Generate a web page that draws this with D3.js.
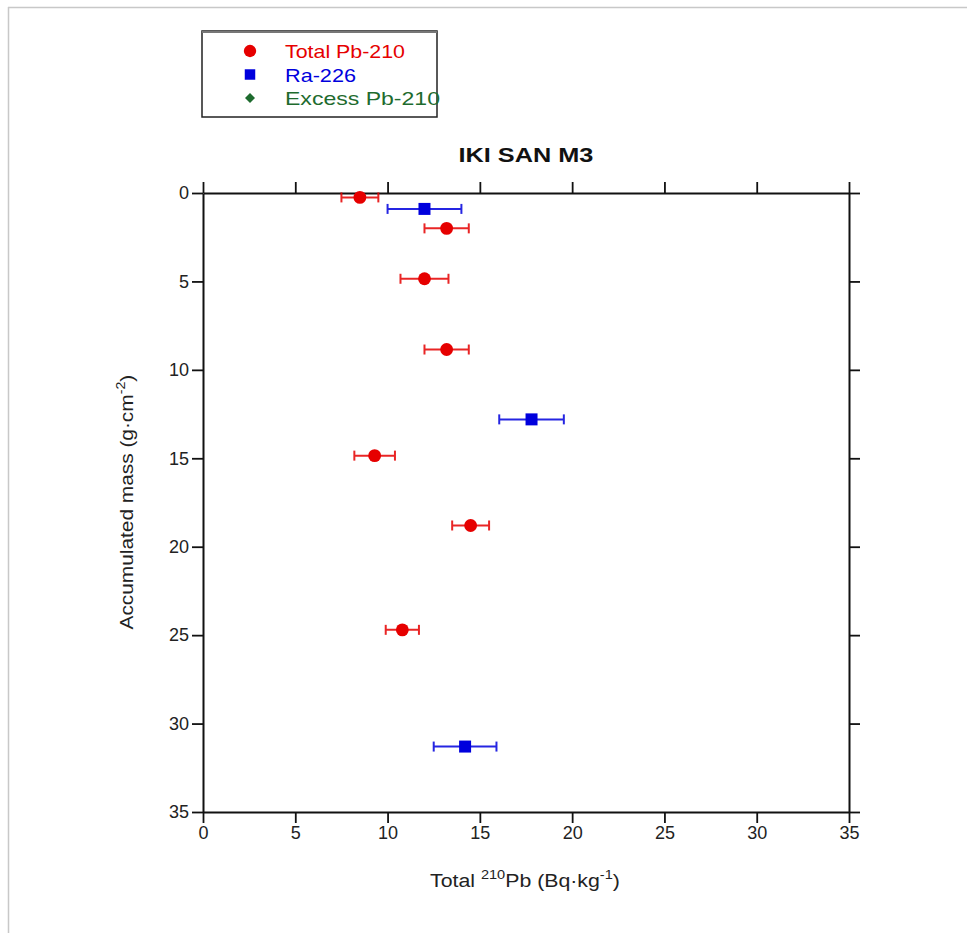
<!DOCTYPE html>
<html><head><meta charset="utf-8">
<script src="https://cdn.jsdelivr.net/npm/d3@7"></script>
<style>body{margin:0;background:#fff;}svg{display:block;font-family:"Liberation Sans",Arial,sans-serif;}</style>
</head><body>
<script>
const title = "IKI SAN M3";
const seriesNames = ["Total Pb-210", "Ra-226", "Excess Pb-210"];
const seriesColors = ["#e60000", "#0000dd", "#1e6b2e"];
const totalPb = [8.5, 13.2, 12.0, 13.2, 9.3, 14.5, 10.8];
const totalPbErr = [1.0, 1.2, 1.3, 1.2, 1.1, 1.0, 0.9];
const totalPbMass = [0.25, 2.0, 4.85, 8.85, 14.85, 18.8, 24.7];
const ra226 = [12.0, 17.8, 14.2];
const ra226Err = [2.0, 1.75, 1.7];
const ra226Mass = [0.9, 12.8, 31.3];
const excessPb = [];
const excessPbErr = [];
const excessPbMass = [];
const xTicks = [0, 5, 10, 15, 20, 25, 30, 35];
const yTicks = [0, 5, 10, 15, 20, 25, 30, 35];

const W = 967, H = 933;
const svg = d3.select("body").append("svg").attr("width", W).attr("height", H);
svg.append("line").attr("x1", 8).attr("x2", W).attr("y1", 7.5).attr("y2", 7.5).attr("stroke", "#c8c8c8").attr("stroke-width", 1.5);
svg.append("line").attr("x1", 8.5).attr("x2", 8.5).attr("y1", 7).attr("y2", H).attr("stroke", "#c8c8c8").attr("stroke-width", 1.5);

const m = {l: 203, r: 849, t: 193, b: 812};
const x = d3.scaleLinear().domain([0, 35]).range([m.l, m.r]);
const y = d3.scaleLinear().domain([0, 35]).range([m.t, m.b]);

function fitWidth(sel, cx, cy, target, rot) {
  const bb = sel.node().getBBox();
  const s = target / bb.width;
  sel.attr("x", 0).attr("y", 0);
  const bb2 = sel.node().getBBox();
  const mid = bb2.x + bb2.width / 2;
  sel.attr("transform", `translate(${cx},${cy}) rotate(${rot || 0}) scale(${s},1) translate(${-mid},0)`);
}

const fmt = d3.format("d");
function styleAxis(g) {
  g.selectAll("path.domain").attr("stroke", "#111").attr("stroke-width", 2);
  g.selectAll(".tick line").attr("stroke", "#111").attr("stroke-width", 1.8);
  g.selectAll(".tick text").attr("fill", "#222").attr("font-size", 18).attr("font-family", '"Liberation Sans",Arial,sans-serif');
}
const gTop = svg.append("g").attr("transform", `translate(0,${m.t})`)
  .call(d3.axisTop(x).tickValues(xTicks).tickSize(11).tickSizeOuter(0).tickFormat(""));
styleAxis(gTop);
const gBot = svg.append("g").attr("transform", `translate(0,${m.b})`)
  .call(d3.axisBottom(x).tickValues(xTicks).tickSize(11).tickSizeOuter(0).tickPadding(3).tickFormat(fmt));
styleAxis(gBot);
const gLeft = svg.append("g").attr("transform", `translate(${m.l},0)`)
  .call(d3.axisLeft(y).tickValues(yTicks).tickSize(11).tickSizeOuter(0).tickPadding(3).tickFormat(fmt));
styleAxis(gLeft);
const gRight = svg.append("g").attr("transform", `translate(${m.r},0)`)
  .call(d3.axisRight(y).tickValues(yTicks).tickSize(11).tickSizeOuter(0).tickFormat(""));
styleAxis(gRight);

const tt = svg.append("text").attr("font-size", 20).attr("font-weight", "bold").attr("fill", "#111").text(title);
fitWidth(tt, 526, 162, 135);

const xl = svg.append("text").attr("font-size", 19).attr("fill", "#222");
xl.append("tspan").text("Total ");
xl.append("tspan").attr("font-size", 13).attr("dy", -8).text("210");
xl.append("tspan").attr("dy", 8).text("Pb (Bq·kg");
xl.append("tspan").attr("font-size", 13).attr("dy", -8).text("-1");
xl.append("tspan").attr("dy", 8).text(")");
fitWidth(xl, 525, 887, 190);

const yl = svg.append("text").attr("font-size", 19).attr("fill", "#222");
yl.append("tspan").text("Accumulated mass (g·cm");
yl.append("tspan").attr("font-size", 13).attr("dy", -8).text("-2");
yl.append("tspan").attr("dy", 8).text(")");
fitWidth(yl, 133, 502, 255, -90);

function drawSeries(vals, errs, mass, color, shape, rot) {
  const data = vals.map((v, i) => ({v, e: errs[i], m: mass[i]}));
  const g = svg.append("g");
  const eb = g.selectAll("g.eb").data(data).join("g").attr("stroke", color).attr("stroke-width", 2).attr("opacity", 0.85);
  eb.append("line").attr("x1", d => x(d.v - d.e)).attr("x2", d => x(d.v + d.e)).attr("y1", d => y(d.m)).attr("y2", d => y(d.m));
  eb.append("line").attr("x1", d => x(d.v - d.e)).attr("x2", d => x(d.v - d.e)).attr("y1", d => y(d.m) - 5).attr("y2", d => y(d.m) + 5);
  eb.append("line").attr("x1", d => x(d.v + d.e)).attr("x2", d => x(d.v + d.e)).attr("y1", d => y(d.m) - 5).attr("y2", d => y(d.m) + 5);
  g.selectAll("path.mk").data(data).join("path")
    .attr("transform", d => `translate(${x(d.v)},${y(d.m)}) rotate(${rot || 0})`)
    .attr("d", d3.symbol().type(shape).size(shape === d3.symbolSquare ? (rot ? 60 : 144) : 130))
    .attr("fill", color);
}
drawSeries(totalPb, totalPbErr, totalPbMass, seriesColors[0], d3.symbolCircle, 0);
drawSeries(ra226, ra226Err, ra226Mass, seriesColors[1], d3.symbolSquare, 0);
drawSeries(excessPb, excessPbErr, excessPbMass, seriesColors[2], d3.symbolSquare, 45);

const lg = svg.append("g");
lg.append("rect").attr("x", 202).attr("y", 31).attr("width", 235).attr("height", 86)
  .attr("fill", "#fff").attr("stroke", "#222").attr("stroke-width", 1.5);
lg.append("line").attr("x1", 202).attr("x2", 437).attr("y1", 32).attr("y2", 32).attr("stroke", "#777").attr("stroke-width", 2);
const shapes = [d3.symbolCircle, d3.symbolSquare, d3.symbolSquare];
const sizes = [120, 110, 50];
const rots = [0, 0, 45];
const legendLens = [120, 71, 155];
seriesNames.forEach((n, i) => {
  const yy = 51 + i * 23.5;
  lg.append("path").attr("transform", `translate(250,${yy}) rotate(${rots[i]})`).attr("d", d3.symbol().type(shapes[i]).size(sizes[i])).attr("fill", seriesColors[i]);
  lg.append("text").attr("x", 285).attr("y", yy + 7).attr("font-size", 19).attr("fill", seriesColors[i])
    .attr("textLength", legendLens[i]).attr("lengthAdjust", "spacingAndGlyphs").text(n);
});
</script>
</body></html>
